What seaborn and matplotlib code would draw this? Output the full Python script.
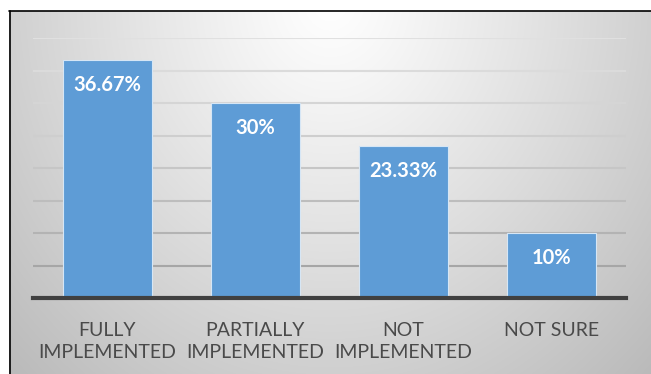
import numpy as np
import pandas as pd
import matplotlib
matplotlib.use("Agg")
import matplotlib.pyplot as plt
from matplotlib.lines import Line2D
import seaborn as sns

categories = ["FULLY\nIMPLEMENTED", "PARTIALLY\nIMPLEMENTED", "NOT\nIMPLEMENTED", "NOT SURE"]
values = [36.67, 30, 23.33, 10]
labels = ["36.67%", "30%", "23.33%", "10%"]

sns.set_theme(style="white")
plt.rcParams["font.family"] = ["Lato", "DejaVu Sans"]

W, H, DPI = 651, 374, 100
fig = plt.figure(figsize=(W / DPI, H / DPI), dpi=DPI)
fig.patch.set_facecolor("white")

# soft radial gradient behind the chart area (pixel rows top to bottom)
yy, xx = np.mgrid[0:H, 0:W]
u = (xx - 330) / 330.0
v = yy / 374.0
r = np.sqrt(u ** 2 + v ** 2)
shade = 255 - 48 * np.clip(r, 0, 1.45) ** 1.1
img = np.dstack([shade, shade, shade]) / 255.0
img[:11, :, :] = 1.0
img[:, :9, :] = 1.0
fig.figimage(img, xo=0, yo=0, origin="upper", zorder=0)

# frame lines on the left and top
fig.add_artist(Line2D([9.5 / W, 9.5 / W], [0, 1 - 11 / H], color="black", lw=1.2,
                      transform=fig.transFigure, zorder=1))
fig.add_artist(Line2D([9 / W, 1], [1 - 11 / H, 1 - 11 / H], color="black", lw=1.2,
                      transform=fig.transFigure, zorder=1))

left, right = 33 / W, 626 / W
bottom, top = (H - 298) / H, (H - 38) / H
ax = fig.add_axes([left, bottom, right - left, top - bottom], zorder=2)
ax.patch.set_alpha(0)

df = pd.DataFrame({"status": categories, "share": values})
sns.barplot(data=df, x="status", y="share", color="#5e9cd6", saturation=1,
            width=0.6, edgecolor="#d6e6f5", linewidth=0.8, ax=ax, zorder=3)

ax.set_ylim(0, 40)
ax.set_yticks(np.arange(5, 41, 5))
ax.yaxis.grid(True, linewidth=1.5)
grid_shades = ["#a6a6a6", "#b3b3b3", "#bdbdbd", "#c6c6c6", "#cecece", "#d5d5d5", "#dbdbdb", "#e0e0e0"]
for gl, c in zip(ax.get_ygridlines(), grid_shades):
    gl.set_color(c)
ax.set_axisbelow(True)
ax.tick_params(axis="y", left=False, labelleft=False)
ax.tick_params(axis="x", bottom=False, pad=11, labelsize=14, labelcolor="#4a4a4a")
for t in ax.get_xticklabels():
    t.set_linespacing(1.36)
ax.set_xlabel("")
ax.set_ylabel("")
for s in ["left", "right", "top"]:
    ax.spines[s].set_visible(False)
ax.spines["bottom"].set_color("#404040")
ax.spines["bottom"].set_linewidth(3)
ax.spines["bottom"].set_zorder(4)

for i, (val, lab) in enumerate(zip(values, labels)):
    ax.annotate(lab, xy=(i, val), xytext=(0, -18), textcoords="offset points",
                ha="center", va="center", color="white", fontsize=14.5,
                fontweight="bold", zorder=5)

fig.savefig("out.png", dpi=DPI)
